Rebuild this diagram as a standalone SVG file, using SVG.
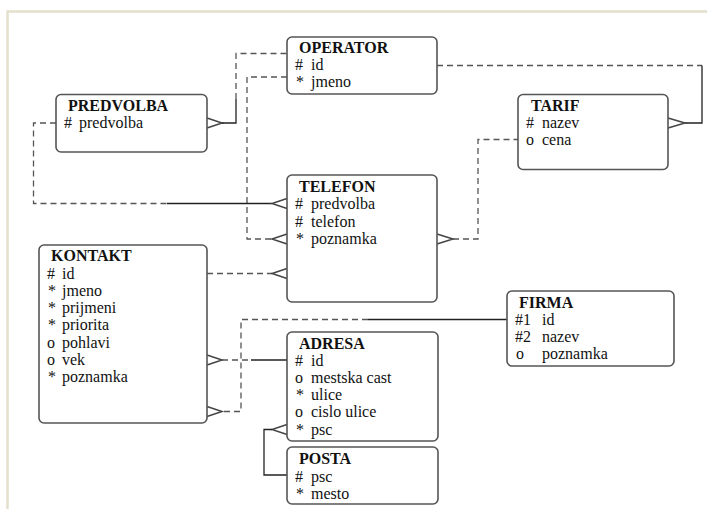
<svg xmlns="http://www.w3.org/2000/svg" width="707" height="509" viewBox="0 0 707 509">
<style>
.box{fill:#fff;stroke:#555;stroke-width:1.6}
.t{font-family:"Liberation Serif","Times New Roman",serif;font-weight:bold;font-size:16px;fill:#111}
.a{font-family:"Liberation Serif","Times New Roman",serif;font-size:16px;fill:#111}
.sol{fill:none;stroke:#222;stroke-width:1.3}
.dash{fill:none;stroke:#555;stroke-width:1.3;stroke-dasharray:6,4}
.cf{fill:none;stroke:#444;stroke-width:1.5}
.frame{fill:none;stroke:#e3e0cd;stroke-width:2.5}
</style>
<rect width="707" height="509" fill="#fff"/>
<path class="frame" d="M7.5,509 V11.5 H707"/>

<g id="connectors">
  <!-- PREDVOLBA - OPERATOR -->
  <path class="cf" d="M207,118 L222,123 L207,128"/>
  <path class="sol" d="M222,123 H236 V99"/>
  <path class="dash" d="M236,99 V53.5 H287"/>
  <!-- OPERATOR - TELEFON -->
  <path class="dash" d="M287,77 H247 V239 H272"/>
  <path class="cf" d="M287,234 L272,239 L287,244"/>
  <!-- PREDVOLBA - TELEFON -->
  <path class="dash" d="M56,123 H33.5 V203.5 H167"/>
  <path class="sol" d="M167,203.5 H272"/>
  <path class="cf" d="M287,198.5 L272,203.5 L287,208.5"/>
  <!-- KONTAKT - TELEFON -->
  <path class="dash" d="M207,273.5 H272"/>
  <path class="cf" d="M287,268.5 L272,273.5 L287,278.5"/>
  <!-- OPERATOR - TARIF -->
  <path class="dash" d="M437,65.5 H702"/>
  <path class="sol" d="M702,65.5 V123 H685"/>
  <path class="cf" d="M668,118 L685,123 L668,128"/>
  <!-- TELEFON - TARIF -->
  <path class="cf" d="M437,234 L453,239 L437,244"/>
  <path class="dash" d="M453,239 H478 V139.5 H518"/>
  <!-- KONTAKT - ADRESA -->
  <path class="cf" d="M207,355 L222,360 L207,365"/>
  <path class="dash" d="M222,360 H251"/>
  <path class="sol" d="M251,360 H287"/>
  <!-- FIRMA - KONTAKT -->
  <path class="sol" d="M507,319.5 H368"/>
  <path class="dash" d="M368,319.5 H241 V411.5 H222"/>
  <path class="cf" d="M207,406.5 L222,411.5 L207,416.5"/>
  <!-- ADRESA - POSTA -->
  <path class="cf" d="M287,424.5 L272,429.5 L287,434.5"/>
  <path class="sol" d="M272,429.5 H264 V475 H287"/>
</g>

<g id="operator">
  <rect class="box" x="287" y="37" width="150" height="57" rx="5"/>
  <text class="t" x="299" y="53">OPERATOR</text>
  <text class="a" x="295" y="70">#</text><text class="a" x="311" y="70">id</text>
  <text class="a" x="296" y="87">*</text><text class="a" x="311" y="87">jmeno</text>
</g>

<g id="predvolba">
  <rect class="box" x="56" y="94.5" width="151" height="57.5" rx="5"/>
  <text class="t" x="68" y="111">PREDVOLBA</text>
  <text class="a" x="64" y="128">#</text><text class="a" x="79" y="128">predvolba</text>
</g>

<g id="tarif">
  <rect class="box" x="518" y="94.5" width="150" height="75" rx="5"/>
  <text class="t" x="531" y="111">TARIF</text>
  <text class="a" x="526" y="128">#</text><text class="a" x="542" y="128">nazev</text>
  <text class="a" x="526" y="145">o</text><text class="a" x="542" y="145">cena</text>
</g>

<g id="telefon">
  <rect class="box" x="287" y="175" width="150" height="127" rx="5"/>
  <text class="t" x="299" y="192">TELEFON</text>
  <text class="a" x="295" y="209">#</text><text class="a" x="311" y="209">predvolba</text>
  <text class="a" x="295" y="226.5">#</text><text class="a" x="311" y="226.5">telefon</text>
  <text class="a" x="296" y="244">*</text><text class="a" x="311" y="244">poznamka</text>
</g>

<g id="kontakt">
  <rect class="box" x="39" y="245" width="168" height="178" rx="5"/>
  <text class="t" x="51" y="261">KONTAKT</text>
  <text class="a" x="47" y="278.5">#</text><text class="a" x="62" y="278.5">id</text>
  <text class="a" x="48" y="295.8">*</text><text class="a" x="62" y="295.8">jmeno</text>
  <text class="a" x="48" y="313.1">*</text><text class="a" x="62" y="313.1">prijmeni</text>
  <text class="a" x="48" y="330.4">*</text><text class="a" x="62" y="330.4">priorita</text>
  <text class="a" x="47" y="347.7">o</text><text class="a" x="62" y="347.7">pohlavi</text>
  <text class="a" x="47" y="365">o</text><text class="a" x="62" y="365">vek</text>
  <text class="a" x="48" y="382.3">*</text><text class="a" x="62" y="382.3">poznamka</text>
</g>

<g id="firma">
  <rect class="box" x="507" y="291" width="167" height="75" rx="5"/>
  <text class="t" x="519" y="308">FIRMA</text>
  <text class="a" x="515" y="325">#1</text><text class="a" x="542" y="325">id</text>
  <text class="a" x="515" y="342">#2</text><text class="a" x="542" y="342">nazev</text>
  <text class="a" x="516" y="359">o</text><text class="a" x="542" y="359">poznamka</text>
</g>

<g id="adresa">
  <rect class="box" x="287" y="332" width="151" height="109" rx="5"/>
  <text class="t" x="299" y="348.5">ADRESA</text>
  <text class="a" x="295" y="365.5">#</text><text class="a" x="311" y="365.5">id</text>
  <text class="a" x="295" y="382.8">o</text><text class="a" x="311" y="382.8">mestska cast</text>
  <text class="a" x="296" y="400.1">*</text><text class="a" x="311" y="400.1">ulice</text>
  <text class="a" x="295" y="417.4">o</text><text class="a" x="311" y="417.4">cislo ulice</text>
  <text class="a" x="296" y="434.7">*</text><text class="a" x="311" y="434.7">psc</text>
</g>

<g id="posta">
  <rect class="box" x="287" y="447" width="151" height="57" rx="5"/>
  <text class="t" x="299" y="464">POSTA</text>
  <text class="a" x="295" y="481.5">#</text><text class="a" x="311" y="481.5">psc</text>
  <text class="a" x="296" y="498.8">*</text><text class="a" x="311" y="498.8">mesto</text>
</g>
</svg>
